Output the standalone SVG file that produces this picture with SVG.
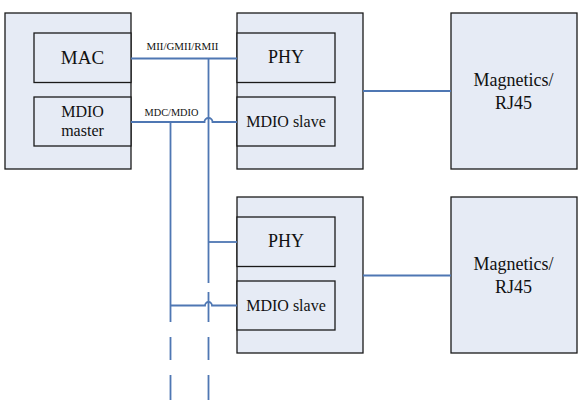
<svg xmlns="http://www.w3.org/2000/svg" width="579" height="405" viewBox="0 0 579 405">
<style>
.box{fill:#E6EBF5;stroke:#1a1a1a;stroke-width:1.3}
.t{font-family:'Liberation Serif','Times New Roman',serif;fill:#111;text-anchor:middle}
.ln{fill:none;stroke:#4F77B3;stroke-width:1.8}
</style>
<rect width="579" height="405" fill="#fff"/>
<g id="mac-chip">
<rect class="box" x="5" y="13" width="126" height="156"/>
</g>
<g id="mac">
<rect class="box" x="34" y="33" width="97" height="49.5"/>
<text class="t" x="82.5" y="64" font-size="19">MAC</text>
</g>
<g id="mdio-master">
<rect class="box" x="34" y="97" width="97" height="49"/>
<text class="t" x="82.5" y="116.5" font-size="16">MDIO</text>
<text class="t" x="82.5" y="136" font-size="16">master</text>
</g>
<g id="phy1-chip">
<rect class="box" x="237" y="13" width="126" height="156"/>
</g>
<g id="phy1">
<rect class="box" x="237" y="33" width="98" height="49.5"/>
<text class="t" x="286" y="62.5" font-size="18">PHY</text>
</g>
<g id="mdio-slave1">
<rect class="box" x="237" y="97" width="98" height="49"/>
<text class="t" x="286" y="127" font-size="16">MDIO slave</text>
</g>
<g id="magnetics1">
<rect class="box" x="451" y="13" width="126" height="156"/>
<text class="t" x="513.5" y="86" font-size="18">Magnetics/</text>
<text class="t" x="513.5" y="108.5" font-size="18">RJ45</text>
</g>
<g id="phy2-chip">
<rect class="box" x="237" y="197" width="126" height="156"/>
</g>
<g id="phy2">
<rect class="box" x="237" y="217" width="98" height="49.5"/>
<text class="t" x="286" y="246.5" font-size="18">PHY</text>
</g>
<g id="mdio-slave2">
<rect class="box" x="237" y="281" width="98" height="49"/>
<text class="t" x="286" y="311" font-size="16">MDIO slave</text>
</g>
<g id="magnetics2">
<rect class="box" x="451" y="197" width="126" height="156"/>
<text class="t" x="513.5" y="270" font-size="18">Magnetics/</text>
<text class="t" x="513.5" y="292.5" font-size="18">RJ45</text>
</g>
<g id="connectors">
<path class="ln" d="M131 58.5H237"/>
<path class="ln" d="M131 122H204.5A4 4 0 0 1 212.5 122H237"/>
<path class="ln" d="M363 91H451"/>
<path class="ln" d="M363 275.5H451"/>
<path class="ln" d="M208.5 58.5V283M208.5 292V322M208.5 337V360M208.5 375V400"/>
<path class="ln" d="M170.5 122V322M170.5 337V360M170.5 375V400"/>
<path class="ln" d="M208.5 242H237"/>
<path class="ln" d="M170.5 305.5H205A3.5 3.5 0 0 1 212 305.5H237"/>
<text class="t" x="182.5" y="50" font-size="10" textLength="72" lengthAdjust="spacingAndGlyphs">MII/GMII/RMII</text>
<text class="t" x="171.5" y="115.5" font-size="10.3">MDC/MDIO</text>
</g>
</svg>
